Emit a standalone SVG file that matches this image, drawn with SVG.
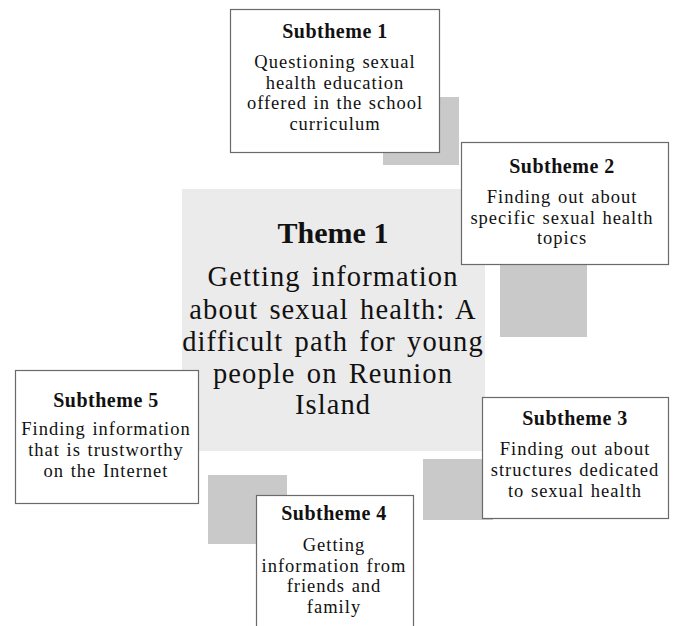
<svg xmlns="http://www.w3.org/2000/svg" width="673" height="626" viewBox="0 0 673 626">
<style>
.shadow{fill:#c9c9c9;stroke:none}
.box{fill:#ffffff;stroke:#6a6a6a;stroke-width:1.2}
.center{fill:#ebebeb;stroke:none}
text{font-family:"Liberation Serif","Times New Roman",serif;fill:#111;text-anchor:middle}
.h{font-weight:bold;font-size:20px;letter-spacing:0.5px}
.b{font-size:18.5px;letter-spacing:1px;word-spacing:1px}
.th{font-weight:bold;font-size:30px}
.tb{font-size:28.5px;letter-spacing:1.1px;word-spacing:3px}
</style>
<rect width="673" height="626" fill="#ffffff"/>
<g id="theme1">
<rect class="center" x="182" y="189" width="303" height="262"/>
<text class="th" x="333" y="243">Theme 1</text>
<text class="tb" x="333" y="286">Getting information</text>
<text class="tb" x="333" y="319">about sexual health: A</text>
<text class="tb" x="333" y="351">difficult path for young</text>
<text class="tb" x="333" y="383">people on Reunion</text>
<text class="tb" x="333" y="414">Island</text>
</g>
<g id="shadows">
<rect class="shadow" x="383" y="97" width="76" height="68"/>
<rect class="shadow" x="500" y="230" width="87" height="107"/>
<rect class="shadow" x="423" y="459" width="70" height="61"/>
<rect class="shadow" x="208" y="475" width="79" height="69"/>
</g>
<g id="subtheme1">
<rect class="box" x="230.5" y="9.5" width="209" height="143"/>
<text class="h" x="335" y="38">Subtheme 1</text>
<text class="b" x="335" y="68">Questioning sexual</text>
<text class="b" x="335" y="88.5">health education</text>
<text class="b" x="335" y="109">offered in the school</text>
<text class="b" x="335" y="130">curriculum</text>
</g>
<g id="subtheme2">
<rect class="box" x="461.5" y="142.5" width="207" height="122"/>
<text class="h" x="562" y="173">Subtheme 2</text>
<text class="b" x="562" y="203">Finding out about</text>
<text class="b" x="562" y="223.5">specific sexual health</text>
<text class="b" x="562" y="244">topics</text>
</g>
<g id="subtheme3">
<rect class="box" x="482.5" y="397.5" width="186" height="121"/>
<text class="h" x="575" y="424.5">Subtheme 3</text>
<text class="b" x="575" y="455">Finding out about</text>
<text class="b" x="575" y="476">structures dedicated</text>
<text class="b" x="575" y="496.5">to sexual health</text>
</g>
<g id="subtheme4">
<rect class="box" x="256.5" y="495.5" width="157" height="140"/>
<text class="h" x="334" y="520">Subtheme 4</text>
<text class="b" x="334" y="551">Getting</text>
<text class="b" x="334" y="571.5">information from</text>
<text class="b" x="334" y="592">friends and</text>
<text class="b" x="334" y="612.5">family</text>
</g>
<g id="subtheme5">
<rect class="box" x="15.5" y="370.5" width="183" height="133"/>
<text class="h" x="106" y="406.5">Subtheme 5</text>
<text class="b" x="106" y="435">Finding information</text>
<text class="b" x="106" y="456">that is trustworthy</text>
<text class="b" x="106" y="477">on the Internet</text>
</g>
<g id="connectors"></g>
</svg>
